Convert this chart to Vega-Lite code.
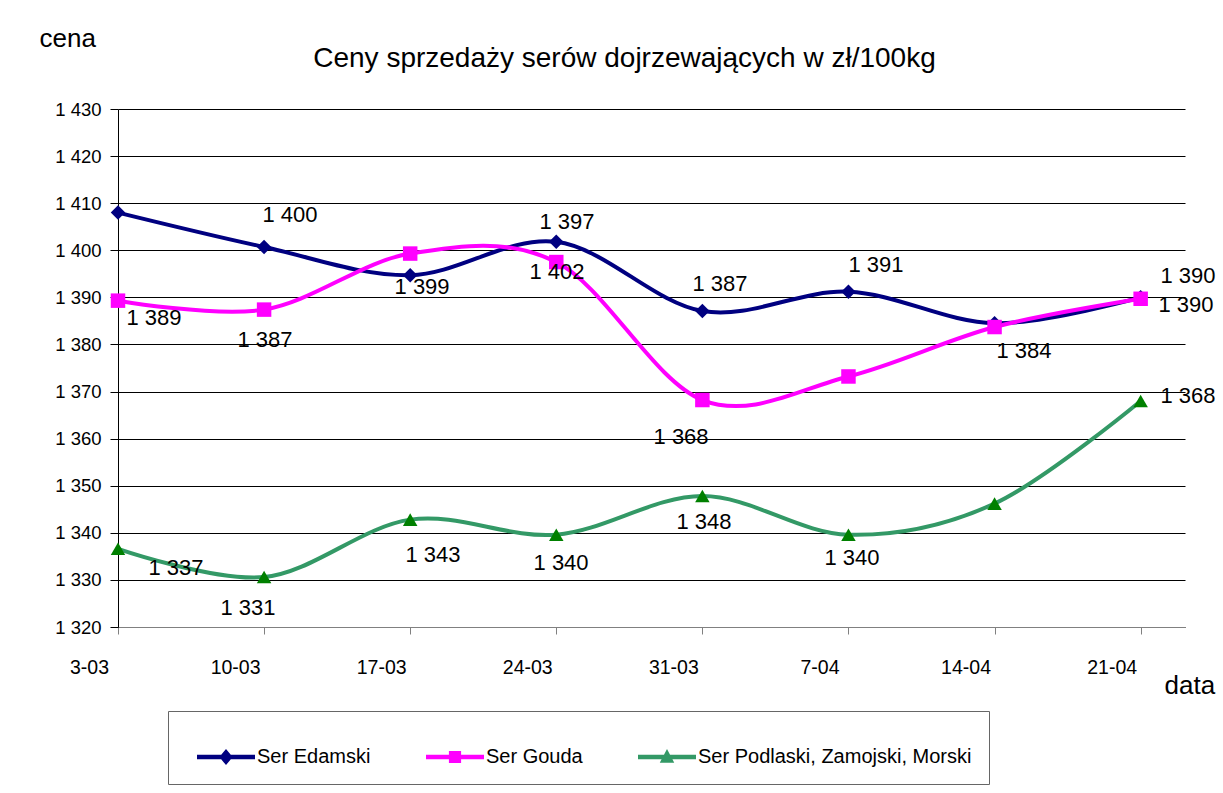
{
  "$schema": "https://vega.github.io/schema/vega-lite/v6.json",
  "width": 1067,
  "height": 518,
  "autosize": {"type": "none"},
  "padding": {"left": 118, "top": 109, "right": 38, "bottom": 166},
  "background": "white",
  "title": {
    "text": "Ceny sprzedaży serów dojrzewających w zł/100kg",
    "fontSize": 28,
    "fontWeight": "normal",
    "font": "Liberation Sans",
    "color": "black",
    "anchor": "middle",
    "frame": "group",
    "dx": -27,
    "baseline": "alphabetic",
    "offset": -70
  },
  "datasets": {
    "prices": [
      {"date": "2008-03-03T00:00:00Z", "series": "Ser Edamski", "value": 1408.0},
      {"date": "2008-03-10T00:00:00Z", "series": "Ser Edamski", "value": 1400.7},
      {"date": "2008-03-17T00:00:00Z", "series": "Ser Edamski", "value": 1394.7},
      {"date": "2008-03-24T00:00:00Z", "series": "Ser Edamski", "value": 1401.8},
      {"date": "2008-03-31T00:00:00Z", "series": "Ser Edamski", "value": 1387.1},
      {"date": "2008-04-07T00:00:00Z", "series": "Ser Edamski", "value": 1391.2},
      {"date": "2008-04-14T00:00:00Z", "series": "Ser Edamski", "value": 1384.5},
      {"date": "2008-04-21T00:00:00Z", "series": "Ser Edamski", "value": 1390.0},
      {"date": "2008-03-03T00:00:00Z", "series": "Ser Gouda", "value": 1389.3},
      {"date": "2008-03-10T00:00:00Z", "series": "Ser Gouda", "value": 1387.4},
      {"date": "2008-03-17T00:00:00Z", "series": "Ser Gouda", "value": 1399.3},
      {"date": "2008-03-24T00:00:00Z", "series": "Ser Gouda", "value": 1397.5},
      {"date": "2008-03-31T00:00:00Z", "series": "Ser Gouda", "value": 1368.2},
      {"date": "2008-04-07T00:00:00Z", "series": "Ser Gouda", "value": 1373.2},
      {"date": "2008-04-14T00:00:00Z", "series": "Ser Gouda", "value": 1383.7},
      {"date": "2008-04-21T00:00:00Z", "series": "Ser Gouda", "value": 1389.7},
      {"date": "2008-03-03T00:00:00Z", "series": "Ser Podlaski, Zamojski, Morski", "value": 1336.6},
      {"date": "2008-03-10T00:00:00Z", "series": "Ser Podlaski, Zamojski, Morski", "value": 1330.6},
      {"date": "2008-03-17T00:00:00Z", "series": "Ser Podlaski, Zamojski, Morski", "value": 1342.8},
      {"date": "2008-03-24T00:00:00Z", "series": "Ser Podlaski, Zamojski, Morski", "value": 1339.6},
      {"date": "2008-03-31T00:00:00Z", "series": "Ser Podlaski, Zamojski, Morski", "value": 1347.8},
      {"date": "2008-04-07T00:00:00Z", "series": "Ser Podlaski, Zamojski, Morski", "value": 1339.6},
      {"date": "2008-04-14T00:00:00Z", "series": "Ser Podlaski, Zamojski, Morski", "value": 1346.2},
      {"date": "2008-04-21T00:00:00Z", "series": "Ser Podlaski, Zamojski, Morski", "value": 1368.0}
    ],
    "labels": [
      {"date": "2008-03-11T05:45:00Z", "value": 1407.5, "text": "1 400"},
      {"date": "2008-03-04T17:24:00Z", "value": 1385.6, "text": "1 389"},
      {"date": "2008-03-10T01:00:00Z", "value": 1380.95, "text": "1 387"},
      {"date": "2008-03-17T13:40:00Z", "value": 1392.2, "text": "1 399"},
      {"date": "2008-03-24T12:15:00Z", "value": 1406.0, "text": "1 397"},
      {"date": "2008-03-24T00:45:00Z", "value": 1395.4, "text": "1 402"},
      {"date": "2008-03-31T20:20:00Z", "value": 1392.8, "text": "1 387"},
      {"date": "2008-04-08T07:40:00Z", "value": 1396.9, "text": "1 391"},
      {"date": "2008-03-29T23:30:00Z", "value": 1360.35, "text": "1 368"},
      {"date": "2008-04-23T06:30:00Z", "value": 1394.5, "text": "1 390"},
      {"date": "2008-04-23T04:10:00Z", "value": 1388.4, "text": "1 390"},
      {"date": "2008-04-15T09:50:00Z", "value": 1378.6, "text": "1 384"},
      {"date": "2008-04-23T06:30:00Z", "value": 1369.05, "text": "1 368"},
      {"date": "2008-03-05T18:40:00Z", "value": 1332.5, "text": "1 337"},
      {"date": "2008-03-09T05:30:00Z", "value": 1324.0, "text": "1 331"},
      {"date": "2008-03-18T02:10:00Z", "value": 1335.3, "text": "1 343"},
      {"date": "2008-03-24T05:30:00Z", "value": 1333.6, "text": "1 340"},
      {"date": "2008-03-31T01:55:00Z", "value": 1342.3, "text": "1 348"},
      {"date": "2008-04-07T04:05:00Z", "value": 1334.65, "text": "1 340"}
    ]
  },
  "encoding": {
    "x": {
      "field": "date",
      "type": "temporal",
      "scale": {
        "type": "utc",
        "domain": [
          {"year": 2008, "month": 3, "date": 3, "utc": true},
          {"year": 2008, "month": 4, "date": 23, "hours": 3, "utc": true}
        ]
      },
      "axis": {
        "values": [
          {"year": 2008, "month": 3, "date": 3, "utc": true},
          {"year": 2008, "month": 3, "date": 10, "utc": true},
          {"year": 2008, "month": 3, "date": 17, "utc": true},
          {"year": 2008, "month": 3, "date": 24, "utc": true},
          {"year": 2008, "month": 3, "date": 31, "utc": true},
          {"year": 2008, "month": 4, "date": 7, "utc": true},
          {"year": 2008, "month": 4, "date": 14, "utc": true},
          {"year": 2008, "month": 4, "date": 21, "utc": true}
        ],
        "labelExpr": "utcFormat(datum.value, '%-d-%m')",
        "grid": false,
        "domainColor": "#808080",
        "tickColor": "#808080",
        "tickSize": 7,
        "labelPadding": 24,
        "labelOffset": -29,
        "labelFontSize": 19.5,
        "labelColor": "black",
        "labelFlush": false,
        "labelOverlap": false,
        "title": "data",
        "titleFontSize": 26,
        "titleFontWeight": "normal",
        "titleColor": "black",
        "titleAngle": 0,
        "titleAlign": "left",
        "titleBaseline": "alphabetic",
        "titleX": 1046,
        "titleY": 66
      }
    },
    "y": {
      "field": "value",
      "type": "quantitative",
      "scale": {"domain": [1320, 1430], "nice": false, "zero": false},
      "axis": {
        "values": [1320, 1330, 1340, 1350, 1360, 1370, 1380, 1390, 1400, 1410, 1420, 1430],
        "labelExpr": "replace(format(datum.value, ','), ',', ' ')",
        "grid": true,
        "gridColor": "#000000",
        "gridOpacity": 1,
        "gridWidth": 1,
        "domainColor": "#000000",
        "tickColor": "#000000",
        "tickSize": 8,
        "labelPadding": 9,
        "labelFontSize": 18.5,
        "labelColor": "black",
        "title": "cena",
        "titleFontSize": 26,
        "titleFontWeight": "normal",
        "titleColor": "black",
        "titleAngle": 0,
        "titleAlign": "left",
        "titleBaseline": "alphabetic",
        "titleX": -79,
        "titleY": -63
      }
    }
  },
  "layer": [
    {
      "data": {"name": "prices"},
      "mark": {"type": "line", "interpolate": "cardinal", "strokeWidth": 4},
      "encoding": {
        "color": {
          "field": "series",
          "type": "nominal",
          "scale": {
            "domain": ["Ser Edamski", "Ser Gouda", "Ser Podlaski, Zamojski, Morski"],
            "range": ["#000080", "#FF00FF", "#339966"]
          },
          "legend": null
        }
      }
    },
    {
      "data": {"name": "prices"},
      "mark": {"type": "point", "filled": true, "opacity": 1, "size": 210},
      "encoding": {
        "color": {
          "field": "series",
          "type": "nominal",
          "scale": {
            "domain": ["Ser Edamski", "Ser Gouda", "Ser Podlaski, Zamojski, Morski"],
            "range": ["#000080", "#FF00FF", "#008000"]
          },
          "legend": null
        },
        "shape": {
          "field": "series",
          "type": "nominal",
          "scale": {
            "domain": ["Ser Edamski", "Ser Gouda", "Ser Podlaski, Zamojski, Morski"],
            "range": ["diamond", "square", "triangle-up"]
          },
          "legend": null
        }
      }
    },
    {
      "data": {"name": "labels"},
      "mark": {"type": "text", "fontSize": 22, "font": "Liberation Sans", "color": "black", "align": "center", "baseline": "middle", "clip": false},
      "encoding": {
        "text": {"field": "text", "type": "nominal"}
      }
    },
    {
      "data": {"name": "prices"},
      "mark": {"type": "point", "filled": true, "opacity": 0},
      "encoding": {
        "color": {
          "field": "series",
          "type": "nominal",
          "scale": {
            "domain": ["Ser Edamski", "Ser Gouda", "Ser Podlaski, Zamojski, Morski"],
            "range": ["#000080", "#FF00FF", "#339966"]
          },
          "legend": {
            "orient": "none",
            "legendX": 50,
            "legendY": 602,
            "direction": "horizontal",
            "title": null,
            "padding": 17,
            "strokeColor": "#666666",
            "fillColor": "white",
            "symbolSize": 3364,
            "symbolOffset": 12,
            "symbolOpacity": 1,
            "symbolStrokeWidth": 0,
            "labelFontSize": 20,
            "labelColor": "black",
            "labelOffset": 2,
            "columnPadding": 43,
            "labelLimit": 400,
            "encode": {"symbols": {"update": {"opacity": {"value": 1}, "size": {"value": 3364}}}}
          }
        },
        "shape": {
          "field": "series",
          "type": "nominal",
          "scale": {
            "domain": ["Ser Edamski", "Ser Gouda", "Ser Podlaski, Zamojski, Morski"],
            "range": [
              "M-1,-0.075H1V0.075H-1Z M0,-0.28L0.23,0L0,0.28L-0.23,0Z",
              "M-1,-0.075H1V0.075H-1Z M-0.21,-0.21H0.21V0.21H-0.21Z",
              "M-1,-0.075H1V0.075H-1Z M0,-0.28L0.25,0.2H-0.25Z"
            ]
          },
          "legend": {
            "orient": "none",
            "legendX": 50,
            "legendY": 602,
            "direction": "horizontal",
            "title": null
          }
        }
      }
    }
  ],
  "resolve": {"scale": {"color": "independent", "shape": "independent"}},
  "config": {
    "font": "Liberation Sans",
    "view": {"stroke": null},
    "axis": {"labelFont": "Liberation Sans", "titleFont": "Liberation Sans"},
    "legend": {"labelFont": "Liberation Sans"}
  }
}
